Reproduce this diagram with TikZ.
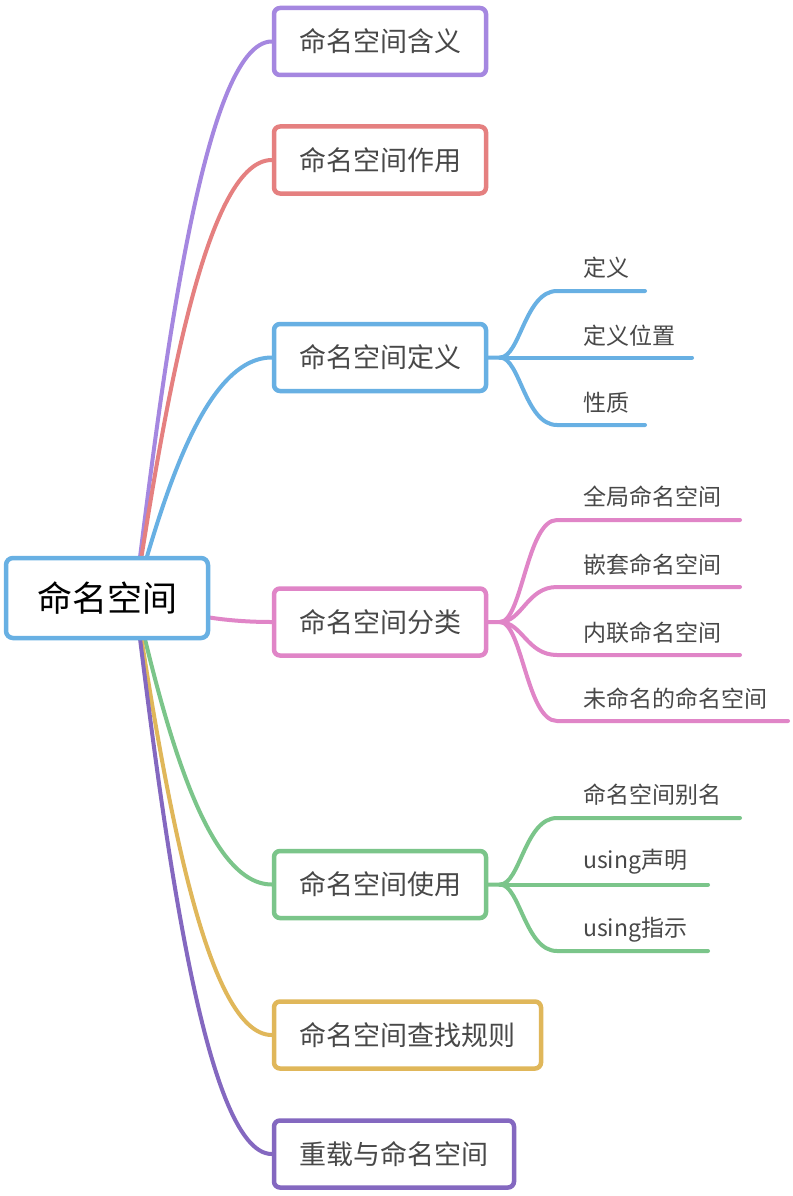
\documentclass[tikz,border=0pt]{standalone}
\usepackage{fontspec}
\usetikzlibrary{backgrounds}
\setmainfont{Noto Sans CJK SC}
\definecolor{cPurA}{HTML}{A587E0}
\definecolor{cRed}{HTML}{E58080}
\definecolor{cBlue}{HTML}{68B0E3}
\definecolor{cPink}{HTML}{E085C7}
\definecolor{cGreen}{HTML}{7BC58A}
\definecolor{cYel}{HTML}{E0B75A}
\definecolor{cPurB}{HTML}{8468C0}
\definecolor{cText}{HTML}{484848}
\tikzset{
  rootbox/.style={draw=cBlue, line width=4.5pt, rounded corners=7pt, fill=white, minimum width=202pt, minimum height=80pt, inner sep=0pt, font=\fontsize{35}{40}\selectfont, text=black},
  topicbox/.style={draw=#1, line width=4.5pt, rounded corners=6pt, fill=white, minimum height=67pt, inner sep=0pt, font=\fontsize{27}{32}\selectfont, text=cText},
  conn/.style={draw=#1, line width=4pt, line cap=round},
  leaf/.style={anchor=west, inner sep=0pt, font=\fontsize{23}{28}\selectfont, text=cText},
}
\begin{document}
\begin{tikzpicture}[x=1pt,y=-1pt]
\useasboundingbox (0,0) rectangle (792,1196);
\coordinate (o) at (135,598);
\node[rootbox] (root) at (107,598) {命名空间};
\node[topicbox=cPurA, minimum width=212pt] (n1) at (380,41.5) {命名空间含义};
\node[topicbox=cRed, minimum width=212pt] (n2) at (380,160) {命名空间作用};
\node[topicbox=cBlue, minimum width=212pt] (n3) at (380,357.5) {命名空间定义};
\node[topicbox=cPink, minimum width=212pt] (n4) at (380,622) {命名空间分类};
\node[topicbox=cGreen, minimum width=212pt] (n5) at (380,884.5) {命名空间使用};
\node[topicbox=cYel, minimum width=267pt] (n6) at (407.5,1035) {命名空间查找规则};
\node[topicbox=cPurB, minimum width=240pt] (n7) at (394,1154) {重载与命名空间};
\begin{pgfonlayer}{background}
\fill[white] (0,0) rectangle (792,1196);
\draw[conn=cPurA] (o) .. controls (162.4,375.4) and (203.5,41.5) .. (n1.west);
\draw[conn=cRed] (o) .. controls (162.4,422.8) and (203.5,160) .. (n2.west);
\draw[conn=cBlue] (o) .. controls (162.4,501.8) and (203.5,357.5) .. (n3.west);
\draw[conn=cPink] (o) .. controls (162.4,607.6) and (203.5,622) .. (n4.west);
\draw[conn=cGreen] (o) .. controls (162.4,712.6) and (203.5,884.5) .. (n5.west);
\draw[conn=cYel] (o) .. controls (162.4,772.8) and (203.5,1035) .. (n6.west);
\draw[conn=cPurB] (o) .. controls (162.4,820.4) and (203.5,1154) .. (n7.west);
\end{pgfonlayer}
% blue children
\coordinate (b3) at (500,357.5);
\coordinate (e31) at (645,291);
\coordinate (e32) at (692,357.5);
\coordinate (e33) at (645,425);
\draw[conn=cBlue] (n3.east) -- (b3) .. controls (520,357.5) and (525,291) .. (557,291) -- (e31);
\draw[conn=cBlue] (b3) -- (e32);
\draw[conn=cBlue] (b3) .. controls (520,357.5) and (525,425) .. (557,425) -- (e33);
\node[leaf] (t31) at (583,268) {定义};
\node[leaf] (t32) at (583,336) {定义位置};
\node[leaf] (t33) at (583,403) {性质};
% pink children
\coordinate (b4) at (500,622);
\coordinate (e41) at (740,520);
\coordinate (e42) at (740,587);
\coordinate (e43) at (740,655);
\coordinate (e44) at (788,721);
\draw[conn=cPink] (n4.east) -- (b4) .. controls (522,622) and (527,520) .. (557,520) -- (e41);
\draw[conn=cPink] (b4) .. controls (522,622) and (527,587) .. (557,587) -- (e42);
\draw[conn=cPink] (b4) .. controls (522,622) and (527,655) .. (557,655) -- (e43);
\draw[conn=cPink] (b4) .. controls (522,622) and (527,721) .. (557,721) -- (e44);
\node[leaf] (t41) at (583,497) {全局命名空间};
\node[leaf] (t42) at (583,565) {嵌套命名空间};
\node[leaf] (t43) at (583,633) {内联命名空间};
\node[leaf] (t44) at (583,699) {未命名的命名空间};
% green children
\coordinate (b5) at (500,884.5);
\coordinate (e51) at (740,818);
\coordinate (e52) at (708,884.5);
\coordinate (e53) at (708,951);
\draw[conn=cGreen] (n5.east) -- (b5) .. controls (520,884.5) and (525,818) .. (557,818) -- (e51);
\draw[conn=cGreen] (b5) -- (e52);
\draw[conn=cGreen] (b5) .. controls (520,884.5) and (525,951) .. (557,951) -- (e53);
\node[leaf] (t51) at (583,795) {命名空间别名};
\node[leaf] (t52) at (583,862) {using声明};
\node[leaf] (t53) at (583,930) {using指示};
\end{tikzpicture}
\end{document}
